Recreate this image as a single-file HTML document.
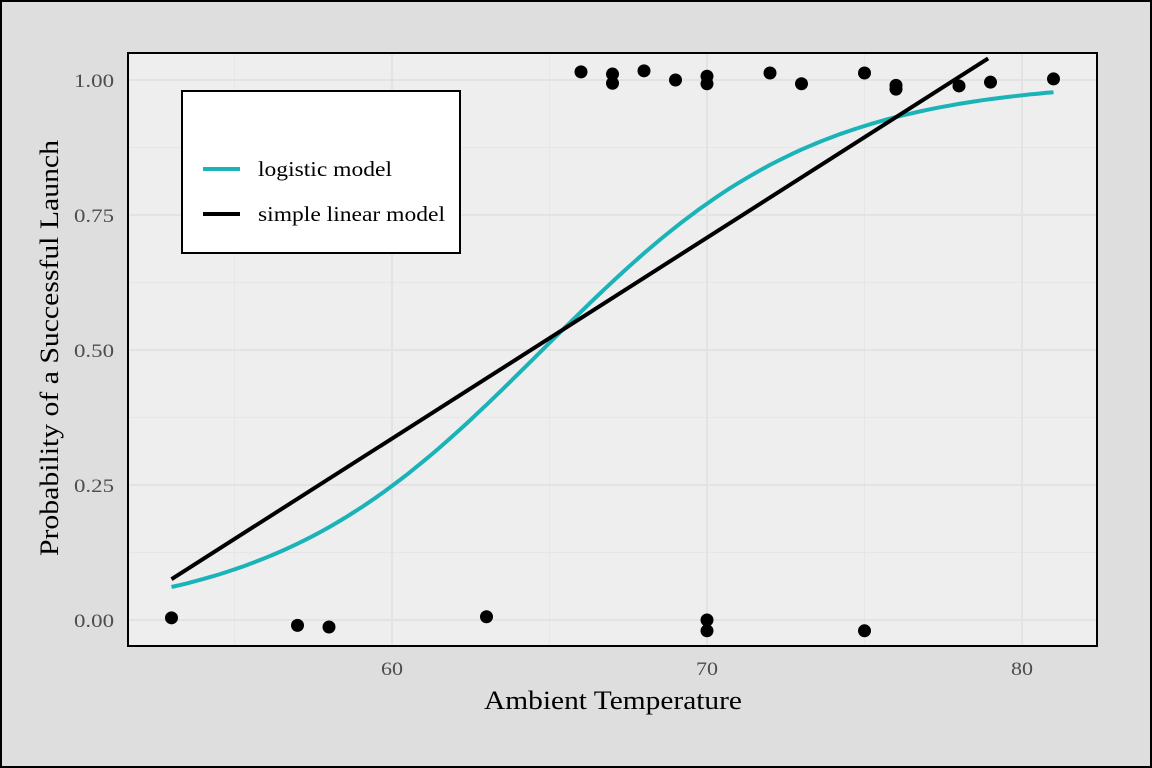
<!DOCTYPE html>
<html><head><meta charset="utf-8"><style>
html,body{margin:0;padding:0;background:#dedede;}
svg{display:block;font-family:"Liberation Serif",serif;}
</style></head><body>
<svg id="chart" width="1152" height="768" viewBox="0 0 1152 768">
<rect x="1" y="1" width="1150" height="766" fill="#dedede" stroke="#000" stroke-width="2"/>
<rect x="128" y="53" width="969" height="593" fill="#eeeeee"/>
<g id="grid"></g>
<g id="marks"></g>
<rect x="128" y="53" width="969" height="593" fill="none" stroke="#000" stroke-width="2"/>
<g id="axes"></g>
<text x="484" y="709" font-size="26" textLength="258" lengthAdjust="spacingAndGlyphs">Ambient Temperature</text>
<text transform="translate(58,556) rotate(-90)" font-size="26" textLength="416" lengthAdjust="spacingAndGlyphs">Probability of a Successful Launch</text>
<g>
<rect x="182" y="91" width="278" height="162" fill="#fff" stroke="#000" stroke-width="2"/>
<line x1="203" y1="169" x2="240" y2="169" stroke="#1ab3b8" stroke-width="4"/>
<text x="258" y="176" font-size="21" textLength="134" lengthAdjust="spacingAndGlyphs">logistic model</text>
<line x1="203" y1="214" x2="240" y2="214" stroke="#000" stroke-width="4"/>
<text x="258" y="221" font-size="21" textLength="187" lengthAdjust="spacingAndGlyphs">simple linear model</text>
</g>
</svg>
<script>
const temps=[53,57,58,63,66,67,67,68,69,70,70,70,70,72,73,75,75,76,76,78,79,81];
const outcomes=[0.004,-0.01,-0.013,0.006,1.015,1.011,0.994,1.017,1.0,1.007,0.993,0.0,-0.02,1.013,0.993,1.013,-0.02,0.99,0.983,0.989,0.996,1.002];
const xTicks=[60,70,80];
const xTickLabels=["60","70","80"];
const yTicks=[0,0.25,0.5,0.75,1];
const yTickLabels=["0.00","0.25","0.50","0.75","1.00"];
const xMinor=[55,65,75];
const yMinor=[0.125,0.375,0.625,0.875];
const logitIntercept=-15.04, logitSlope=0.2322;
const linIntercept=-1.896, linSlope=0.0372;
const tempRange=[53,81];

const NS="http://www.w3.org/2000/svg";
const X=t=>392+(t-60)*31.5;
const Y=p=>620-p*540;
function mk(tag,attrs,parent){const e=document.createElementNS(NS,tag);for(const k in attrs)e.setAttribute(k,attrs[k]);parent.appendChild(e);return e;}
const grid=document.getElementById('grid'),marks=document.getElementById('marks'),axes=document.getElementById('axes');
xMinor.forEach(t=>{const l=mk('line',{x1:X(t),x2:X(t),y1:53,y2:646,stroke:'#e6e6e6','stroke-width':1},grid);

});
yMinor.forEach(p=>{const l=mk('line',{x1:128,x2:1097,y1:Y(p),y2:Y(p),stroke:'#e6e6e6','stroke-width':1},grid);

});
xTicks.forEach((t,i)=>{const l=mk('line',{x1:X(t),x2:X(t),y1:53,y2:646,stroke:'#e3e3e3','stroke-width':2},grid);


const tx=mk('text',{x:X(t)-11,y:675,'font-size':19,textLength:22,lengthAdjust:'spacingAndGlyphs',fill:'#4d4d4d'},axes);tx.textContent=xTickLabels[i];

});
yTicks.forEach((p,i)=>{const l=mk('line',{x1:128,x2:1097,y1:Y(p),y2:Y(p),stroke:'#e3e3e3','stroke-width':2},grid);


const tx=mk('text',{x:74,y:Y(p)+7,'font-size':19,textLength:40,lengthAdjust:'spacingAndGlyphs',fill:'#4d4d4d'},axes);tx.textContent=yTickLabels[i];

});
let d="";for(let t=tempRange[0];t<=tempRange[1]+1e-9;t+=0.25){const p=1/(1+Math.exp(-(logitIntercept+logitSlope*t)));d+=(d?"L":"M")+X(t).toFixed(1)+","+Y(p).toFixed(1);}
const lc=mk('path',{d:d,fill:'none',stroke:'#1ab3b8','stroke-width':4},marks);


const tEnd=Math.min(tempRange[1],(1.04-linIntercept)/linSlope);
const ll=mk('line',{x1:X(tempRange[0]),y1:Y(linIntercept+linSlope*tempRange[0]),x2:X(tEnd),y2:Y(linIntercept+linSlope*tEnd),stroke:'#000','stroke-width':4},marks);


temps.forEach((t,i)=>{const c=mk('circle',{cx:X(t),cy:Y(outcomes[i]),r:6.5,fill:'#000'},marks);

});
</script>
</body></html>
